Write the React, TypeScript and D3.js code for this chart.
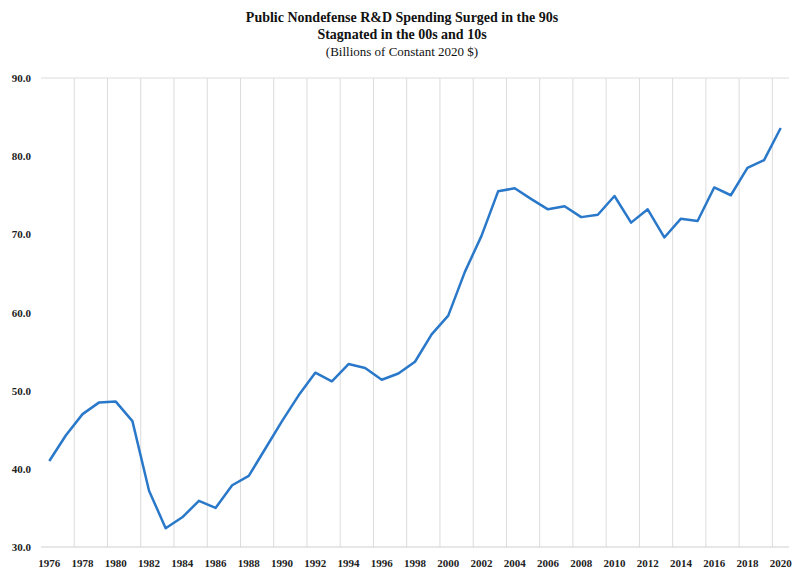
import * as d3 from 'd3';

const years = d3.range(1976, 2021);
const values = [
  41.0, 44.3, 47.0, 48.5, 48.6, 46.1, 37.2, 32.4, 33.8, 35.9, 35.0, 37.9, 39.1, 42.6, 46.1,
  49.4, 52.3, 51.2, 53.4, 52.9, 51.4, 52.2, 53.7, 57.2, 59.6, 65.2, 69.8, 75.5, 75.9, 74.5,
  73.2, 73.6, 72.2, 72.5, 74.9, 71.5, 73.2, 69.6, 72.0, 71.7, 76.0, 75.0, 78.5, 79.5, 83.6,
];
const yTicks = [30, 40, 50, 60, 70, 80, 90];
const titleLines = [
  'Public Nondefense R&D Spending Surged in the 90s',
  'Stagnated in the 00s and 10s',
];
const subtitle = '(Billions of Constant 2020 $)';

const W = 800;
const H = 577;
const font = '"Liberation Serif", "DejaVu Serif", serif';

export default function App() {
  const x = d3.scaleLinear().domain([1975.5, 2020.5]).range([41, 789]);
  const y = d3.scaleLinear().domain([30, 90]).range([547, 78]);
  const line = d3
    .line<number>()
    .x((_, i) => x(years[i]))
    .y((d) => y(d));
  const grid = d3.range(1977.5, 2021, 2);
  const labels = years.filter((yr) => yr % 2 === 0);

  return (
    <svg
      width={W}
      height={H}
      style={{ position: 'absolute', left: 0, top: 0, background: '#fff' }}
      fontFamily={font}
    >
      {grid.map((g) => (
        <line key={g} x1={x(g)} x2={x(g)} y1={y(90)} y2={y(30)} stroke="#dcdcdc" strokeWidth={1} />
      ))}
      <line x1={x(1975.5)} x2={x(2020.5)} y1={y(90)} y2={y(90)} stroke="#dcdcdc" />
      <line x1={x(1975.5)} x2={x(2020.5)} y1={y(30)} y2={y(30)} stroke="#cfcfcf" />
      {yTicks.map((t) => (
        <text key={t} x={31} y={y(t) + 4} textAnchor="end" fontSize={11} fontWeight="bold" fill="#222">
          {t.toFixed(1)}
        </text>
      ))}
      {labels.map((yr) => (
        <text key={yr} x={x(yr)} y={567} textAnchor="middle" fontSize={11} fontWeight="bold" fill="#222">
          {yr}
        </text>
      ))}
      <path d={line(values) ?? ''} fill="none" stroke="#2a78c9" strokeWidth={2.5} strokeLinejoin="round" />
      {titleLines.map((t, i) => (
        <text key={t} x={402} y={22 + i * 17} textAnchor="middle" fontSize={14} fontWeight="bold" fill="#111">
          {t}
        </text>
      ))}
      <text x={402} y={56} textAnchor="middle" fontSize={13} fill="#111">
        {subtitle}
      </text>
    </svg>
  );
}
